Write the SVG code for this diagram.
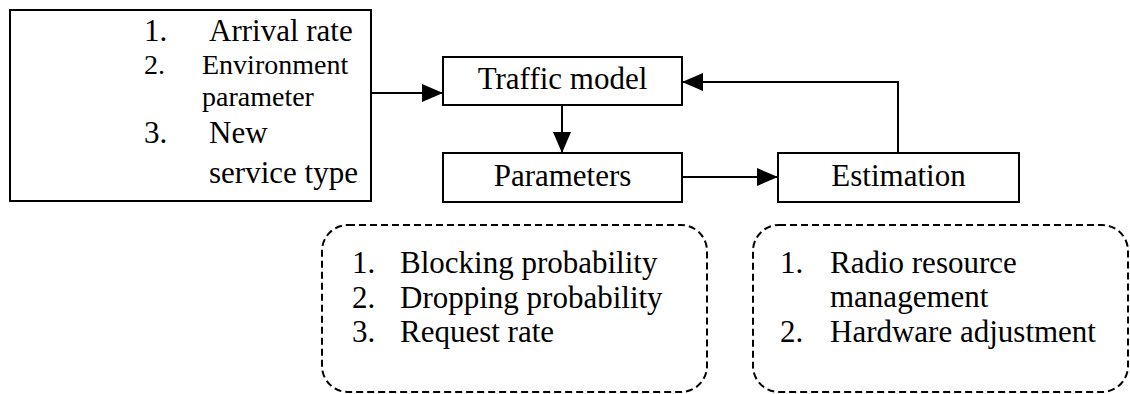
<svg xmlns="http://www.w3.org/2000/svg" width="1130" height="394" viewBox="0 0 1130 394">
<style>
.box{fill:#fff;stroke:#000;stroke-width:2}
.dash{fill:none;stroke:#000;stroke-width:2;stroke-dasharray:7 4}
.t{font-family:"Liberation Serif","Times New Roman",serif;font-size:31px;fill:#000}
.s{font-size:28px}
.c{text-anchor:middle}
.ln{fill:none;stroke:#000;stroke-width:2}
</style>
<defs>
<marker id="ah" viewBox="0 0 21 18" refX="21" refY="9" markerWidth="21" markerHeight="18" markerUnits="userSpaceOnUse" orient="auto">
<path d="M0,0 L21,9 L0,18 Z" fill="#000"/>
</marker>
</defs>
<g id="inputs">
<rect class="box" x="10" y="10" width="361" height="191"/>
<text class="t" x="144" y="41">1.</text>
<text class="t" x="209" y="41">Arrival rate</text>
<text class="t s" x="144" y="74">2.</text>
<text class="t s" x="202" y="74">Environment</text>
<text class="t s" x="202" y="106">parameter</text>
<text class="t" x="144" y="143">3.</text>
<text class="t" x="209" y="143">New</text>
<text class="t" x="209" y="183">service type</text>
</g>
<g id="traffic-model">
<rect class="box" x="443" y="57" width="239" height="48"/>
<text class="t c" x="562.5" y="89">Traffic model</text>
</g>
<g id="parameters">
<rect class="box" x="443" y="153" width="239" height="49"/>
<text class="t c" x="562.5" y="186">Parameters</text>
</g>
<g id="estimation">
<rect class="box" x="778" y="153" width="241" height="49"/>
<text class="t c" x="898.5" y="186">Estimation</text>
</g>
<g id="param-list">
<rect class="dash" x="322" y="225" width="385" height="167" rx="26" ry="26"/>
<text class="t" x="352" y="273">1.</text>
<text class="t" x="400" y="273">Blocking probability</text>
<text class="t" x="352" y="308">2.</text>
<text class="t" x="400" y="308">Dropping probability</text>
<text class="t" x="352" y="342">3.</text>
<text class="t" x="400" y="342">Request rate</text>
</g>
<g id="estimation-list">
<rect class="dash" x="753" y="225" width="375" height="167" rx="26" ry="26"/>
<text class="t" x="780" y="273">1.</text>
<text class="t" x="830" y="273">Radio resource</text>
<text class="t" x="830" y="307">management</text>
<text class="t" x="780" y="342">2.</text>
<text class="t" x="830" y="342">Hardware adjustment</text>
</g>
<g id="connectors">
<line class="ln" x1="371" y1="93" x2="443" y2="93" marker-end="url(#ah)"/>
<line class="ln" x1="562" y1="105" x2="562" y2="153" marker-end="url(#ah)"/>
<line class="ln" x1="682" y1="177" x2="778" y2="177" marker-end="url(#ah)"/>
<polyline class="ln" points="898,153 898,82 682,82" marker-end="url(#ah)"/>
</g>
</svg>
